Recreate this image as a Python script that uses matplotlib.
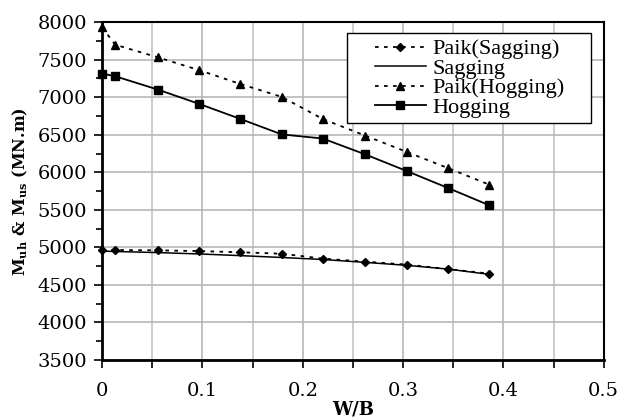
import numpy as np
import matplotlib
matplotlib.use('Agg')
import matplotlib.pyplot as plt
from matplotlib.ticker import MultipleLocator
from matplotlib.legend_handler import HandlerLine2D
from matplotlib.lines import Line2D

plt.rcParams['font.family'] = 'DejaVu Serif'
plt.rcParams['mathtext.fontset'] = 'dejavuserif'

# data
wb = [0.0, 0.013, 0.056, 0.097, 0.137, 0.179, 0.220, 0.262, 0.304, 0.345, 0.386]
paik_sag = [4965, 4965, 4960, 4950, 4935, 4915, 4850, 4810, 4770, 4710, 4650]
sagging = [4950, 4945, 4930, 4912, 4890, 4865, 4838, 4800, 4760, 4710, 4640]
paik_hog = [7930, 7700, 7530, 7360, 7180, 7005, 6710, 6490, 6270, 6055, 5835]
hogging = [7315, 7280, 7100, 6910, 6715, 6505, 6450, 6240, 6015, 5790, 5560]
xticks = [0, 0.1, 0.2, 0.3, 0.4, 0.5]
xlabels = ['0', '0.1', '0.2', '0.3', '0.4', '0.5']

fig = plt.figure(figsize=(6.23, 4.19), dpi=100)
ax = fig.add_axes([0.164, 0.141, 0.805, 0.806])

ax.plot(wb, paik_sag, color='black', linestyle=(0, (2, 3)), lw=1.3,
        marker='D', markersize=4, label='Paik(Sagging)', clip_on=False)
ax.plot(wb, sagging, color='black', linestyle='-', lw=1.1, label='Sagging')
ax.plot(wb, paik_hog, color='black', linestyle=(0, (2, 3)), lw=1.3,
        marker='^', markersize=5.5, label='Paik(Hogging)', clip_on=False)
ax.plot(wb, hogging, color='black', linestyle='-', lw=1.3,
        marker='s', markersize=5.5, label='Hogging', clip_on=False)

ax.set_xlim(0, 0.5)
ax.set_ylim(3500, 8000)
ax.set_xticks(xticks)
ax.set_xticklabels(xlabels)
ax.xaxis.set_minor_locator(MultipleLocator(0.05))
ax.yaxis.set_major_locator(MultipleLocator(500))
ax.yaxis.set_minor_locator(MultipleLocator(250))

ax.grid(which='major', color='#b8b8b8', lw=1.2)
ax.grid(which='minor', axis='x', color='#c4c4c4', lw=1.2)
ax.set_axisbelow(True)

ax.tick_params(which='both', direction='out', width=1.2, labelsize=14, color='black')
ax.tick_params(which='major', length=6)
ax.tick_params(axis='x', which='minor', length=6)
ax.tick_params(axis='y', which='minor', length=4)
ax.tick_params(axis='x', pad=10)
ax.tick_params(axis='y', pad=5)
for s in ax.spines.values():
    s.set_linewidth(1.5)
ax.spines['left'].set_linewidth(2)
ax.spines['bottom'].set_linewidth(2)

ax.set_xlabel('W/B', fontweight='bold', fontsize=13, labelpad=0)
ax.set_ylabel(r'$\mathbf{M}_{\mathbf{uh}}$ & $\mathbf{M}_{\mathbf{us}}$ (MN.m)',
              fontweight='bold', fontsize=11.5, labelpad=5)

# wide legend box with blank space on both sides, as in the original
leg = ax.legend(loc='upper right', bbox_to_anchor=(0.488, 0.5, 0.486, 0.467),
                mode='expand', fancybox=False,
                edgecolor='black', framealpha=1, handlelength=3.3,
                handler_map={Line2D: HandlerLine2D(xpad=1.0)},
                prop={'family': 'Liberation Serif', 'size': 16},
                labelspacing=-0.05, borderpad=0.25, handletextpad=0.3,
                borderaxespad=0)
leg.get_frame().set_linewidth(1.0)

fig.savefig('out.png', dpi=100)
